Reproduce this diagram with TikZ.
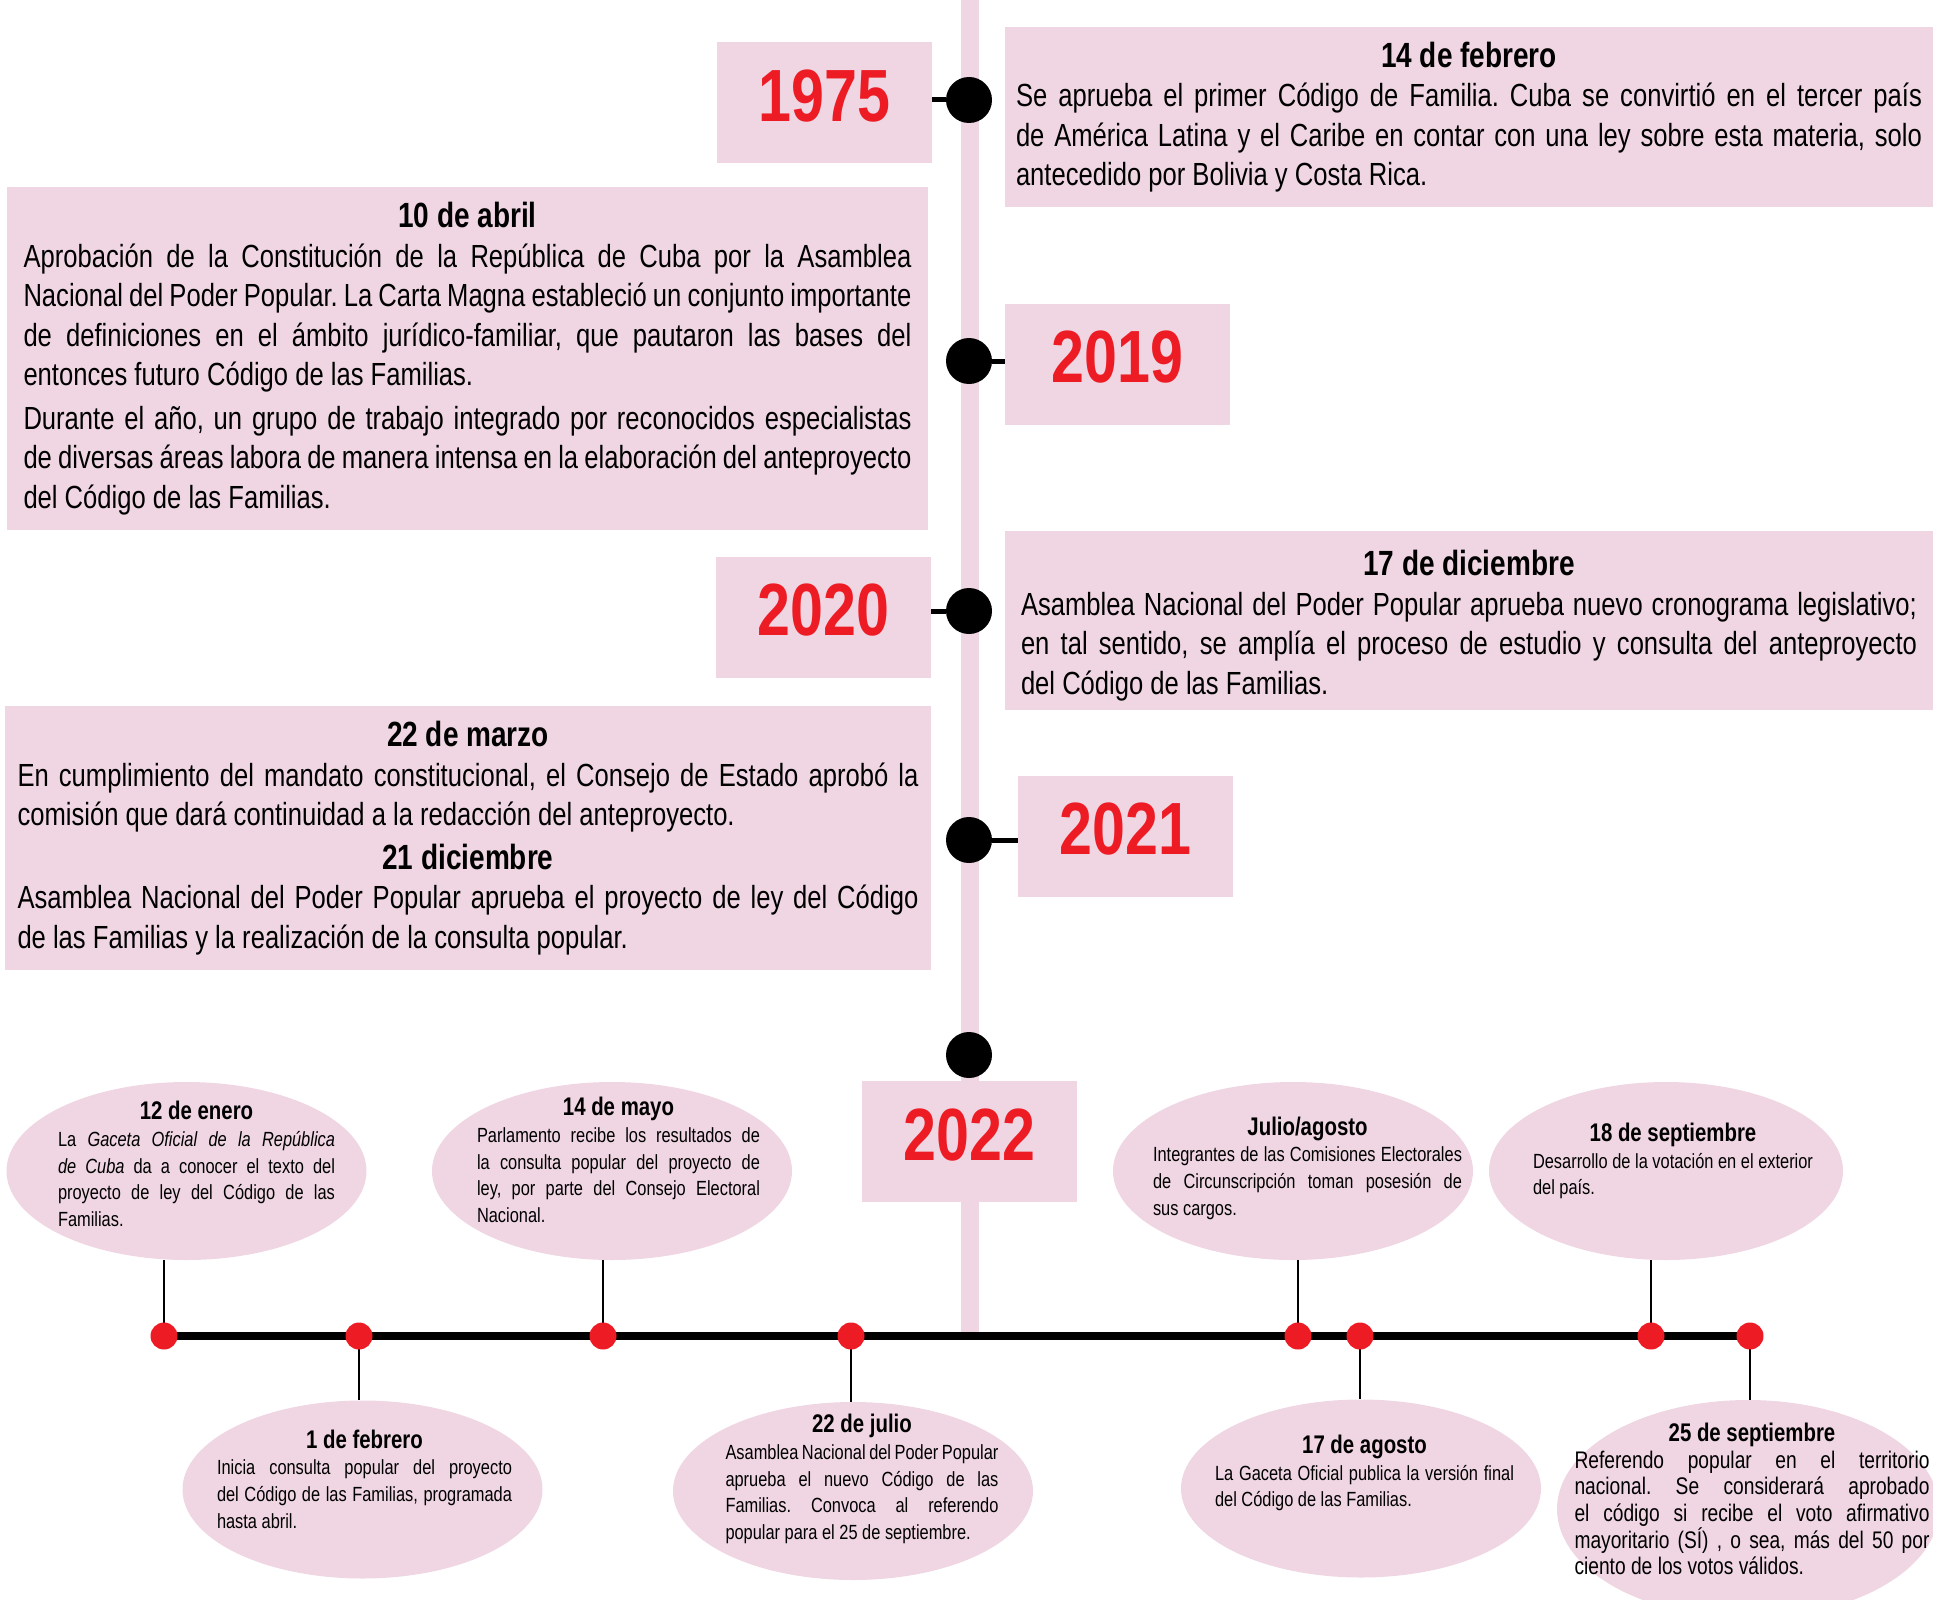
\documentclass[tikz,border=0pt]{standalone}
\usepackage{fontspec}
\setmainfont[FakeStretch=0.8]{Liberation Sans}
\usetikzlibrary{shapes.geometric}

\definecolor{rosa}{RGB}{239,214,226}
\definecolor{rojo}{RGB}{237,28,36}
\frenchspacing
\tolerance=10000
\hyphenpenalty=10000
\exhyphenpenalty=10000

\newcommand\fecha[1]{{\centering\fontsize{35}{39.5}\selectfont\bfseries #1\par}}
\newcommand\fechab[1]{{\centering\fontsize{25.5}{26.7}\selectfont\bfseries #1\par}}

\tikzset{
	caja/.style={fill=rosa, inner sep=0pt, align=justify, font=\fontsize{32}{39.5}\selectfont},
	anio/.style={fill=rosa, minimum width=215pt, minimum height=121pt, inner sep=0pt,
		text depth=14pt, text=rojo, font=\fontsize{74}{80}\selectfont\bfseries},
	burbuja/.style={ellipse, fill=rosa, minimum width=360pt, minimum height=178pt, inner sep=0pt},
	nota/.style={align=justify, inner sep=0pt, font=\fontsize{20.5}{26.7}\selectfont},
	punto/.style={circle, fill=black, minimum size=46pt, inner sep=0pt},
	hito/.style={circle, fill=rojo, minimum size=27pt, inner sep=0pt},
	enlace/.style={line width=5pt},
	tallo/.style={line width=2.5pt},
	linea/.style={line width=8pt}
}

\begin{document}
\begin{tikzpicture}[x=1pt,y=-1pt]
	\useasboundingbox (0,0) rectangle (1933,1600);
	\fill[rosa] (961,0) rectangle (979,1336);

	% years
	\node[anio] (y1975) at (824.5,102.5) {1975};
	\node[anio, minimum width=225pt] (y2019) at (1117.5,364) {2019};
	\node[anio] (y2020) at (823.5,617) {2020};
	\node[anio] (y2021) at (1125.5,836) {2021};
	\node[anio] (y2022) at (969.5,1141.5) {2022};

	\node[punto] (d1975) at (969,100) {};
	\node[punto] (d2019) at (969,361) {};
	\node[punto] (d2020) at (969,611) {};
	\node[punto] (d2021) at (969,840) {};
	\node[punto] (d2022) at (969,1055) {};

	\draw[enlace] (y1975.east |- d1975) -- (d1975);
	\draw[enlace] (d2019) -- (y2019.west |- d2019);
	\draw[enlace] (y2020.east |- d2020) -- (d2020);
	\draw[enlace] (d2021) -- (y2021.west |- d2021);

	\node[caja, minimum width=928pt, minimum height=180pt, text width=906pt] (bFeb14) at (1469,117) {
		\fecha{14 de febrero}
		Se aprueba el primer Código de Familia. Cuba se convirtió en el tercer país\linebreak
		de América Latina y el Caribe en contar con una ley sobre esta materia, solo\linebreak
		antecedido por Bolivia y Costa Rica.};
	\node[caja, minimum width=921pt, minimum height=343pt, text width=888pt] (bAbr10) at (467.5,358.5) {
		\fecha{10 de abril}
		Aprobación de la Constitución de la República de Cuba por la Asamblea\linebreak
		Nacional del Poder Popular. La Carta Magna estableció un conjunto importante\linebreak
		de definiciones en el ámbito jurídico-familiar, que pautaron las bases del\linebreak
		entonces futuro Código de las Familias.\par\vspace{4pt}
		Durante el año, un grupo de trabajo integrado por reconocidos especialistas\linebreak
		de diversas áreas labora de manera intensa en la elaboración del anteproyecto\linebreak
		del Código de las Familias.};
	\node[caja, minimum width=928pt, minimum height=179pt, text width=896pt] (bDic17) at (1469,620.5) {
		\fecha{\rule{0pt}{36pt}17 de diciembre}
		Asamblea Nacional del Poder Popular aprueba nuevo cronograma legislativo;\linebreak
		en tal sentido, se amplía el proceso de estudio y consulta del anteproyecto\linebreak
		del Código de las Familias.};
	\node[caja, minimum width=926pt, minimum height=264pt, text width=901pt] (bMar22) at (468,838) {
		\fecha{22 de marzo}
		En cumplimiento del mandato constitucional, el Consejo de Estado aprobó la\linebreak
		comisión que dará continuidad a la redacción del anteproyecto.\par\vspace{4pt}
		\fecha{21 diciembre}
		Asamblea Nacional del Poder Popular aprueba el proyecto de ley del Código\linebreak
		de las Familias y la realización de la consulta popular.};

	% 2022
	\node[burbuja] (eJan) at (186.5,1171) {};
	\node[burbuja] (eMay) at (612,1171) {};
	\node[burbuja] (eJulAgo) at (1293,1171) {};
	\node[burbuja, minimum width=354pt] (eSep18) at (1666,1171) {};
	\node[burbuja] (eFeb) at (362.5,1489.5) {};
	\node[burbuja] (eJul22) at (853,1491) {};
	\node[burbuja] (eAgo17) at (1361,1488.5) {};
	\node[burbuja, minimum width=382pt, minimum height=218pt] (eSep25) at (1748,1509) {};

	\node[nota, text width=277pt] (tJan) at (196.5,1164) {
		\fechab{12 de enero}
		La \textit{Gaceta Oficial de la República}\linebreak
		\textit{de Cuba} da a conocer el texto del\linebreak
		proyecto de ley del Código de las\linebreak
		Familias.};
	\node[nota, text width=283pt] (tMay) at (618.5,1160) {
		\fechab{14 de mayo}
		Parlamento recibe los resultados de\linebreak
		la consulta popular del proyecto de\linebreak
		ley, por parte del Consejo Electoral\linebreak
		Nacional.};
	\node[nota, text width=309pt] (tJulAgo) at (1307.5,1168) {
		\fechab{Julio/agosto}
		Integrantes de las Comisiones Electorales\linebreak
		de Circunscripción toman posesión de\linebreak
		sus cargos.};
	\node[nota, text width=280pt] (tSep18) at (1673,1161) {
		\fechab{18 de septiembre}
		Desarrollo de la votación en el exterior\linebreak
		del país.};
	\node[nota, text width=295pt] (tFeb) at (364.5,1479) {
		\fechab{1 de febrero}
		Inicia consulta popular del proyecto\linebreak
		del Código de las Familias, programada\linebreak
		hasta abril.};
	\node[nota, text width=273pt] (tJul22) at (862,1479) {
		\fechab{22 de julio}
		Asamblea Nacional del Poder Popular\linebreak
		aprueba el nuevo Código de las\linebreak
		Familias. Convoca al referendo\linebreak
		popular para el 25 de septiembre.};
	\node[nota, text width=299pt] (tAgo17) at (1364.5,1473) {
		\fechab{17 de agosto}
		La Gaceta Oficial publica la versión final\linebreak
		del Código de las Familias.};
	\node[nota, text width=355pt, font=\fontsize{24}{26.7}\selectfont] (tSep25) at (1752,1499) {
		\fechab{25 de septiembre}
		Referendo popular en el territorio\linebreak
		nacional. Se considerará aprobado\linebreak
		el código si recibe el voto afirmativo\linebreak
		mayoritario (SÍ) , o sea, más del 50 por\linebreak
		ciento de los votos válidos.};

	\foreach \i/\x in {1/164,2/359,3/603,4/851,5/1298,6/1360,7/1651,8/1750}
		\coordinate (m\i) at (\x,1336);
	\draw[linea] (m1) -- (m8);
	\draw[tallo] (m1) -- (m1 |- eJan.south);
	\draw[tallo] (m3) -- (m3 |- eMay.south);
	\draw[tallo] (m5) -- (m5 |- eJulAgo.south);
	\draw[tallo] (m7) -- (m7 |- eSep18.south);
	\draw[tallo] (m2) -- (m2 |- eFeb.north);
	\draw[tallo] (m4) -- (m4 |- eJul22.north);
	\draw[tallo] (m6) -- (m6 |- eAgo17.north);
	\draw[tallo] (m8) -- (m8 |- eSep25.north);
	\foreach \i in {1,...,8}
		\node[hito] (h\i) at (m\i) {};
\end{tikzpicture}
\end{document}
